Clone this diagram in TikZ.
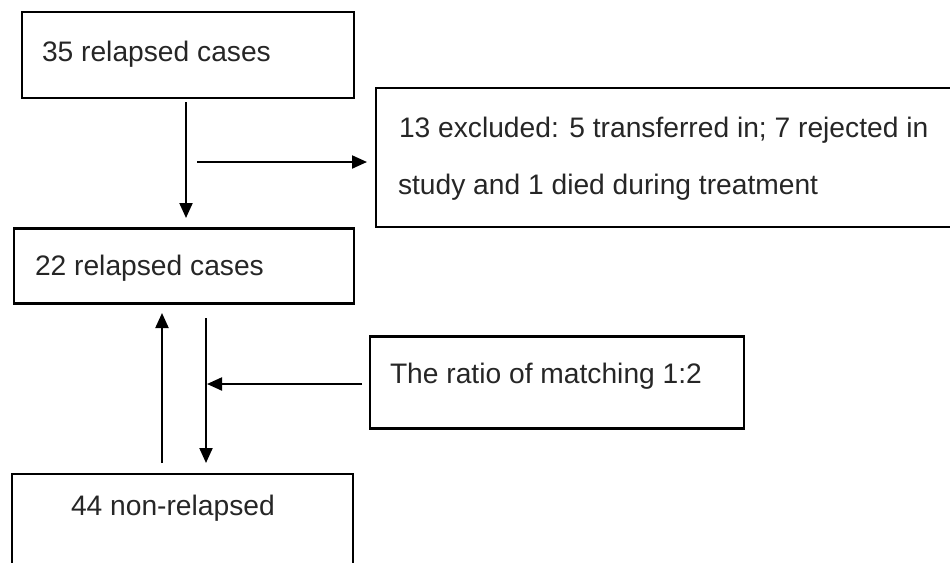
\documentclass[tikz,border=0pt]{standalone}
\usepackage{fontspec}
\setmainfont{Liberation Sans}
\usetikzlibrary{arrows.meta}
\tikzset{
  box/.style={draw, line width=2.3pt, inner sep=0pt, outer sep=0pt, anchor=north west},
  txt/.style={inner sep=0pt, outer sep=0pt, anchor=base west, font=\fontsize{28.2}{32}\selectfont, text=black!85},
  conn/.style={line width=2.1pt, -{Triangle[length=15pt,width=13pt]}}
}
\begin{document}
\begin{tikzpicture}[x=1pt,y=-1pt]
\useasboundingbox (0,0) rectangle (950,562);
\begin{scope}
\clip (0,0) rectangle (950,562);
% boxes
\node[box, minimum width=332pt, minimum height=86pt] (b1) at (22,12) {};
\node[box, minimum width=590pt, minimum height=139pt] (b2) at (376,88) {};
\node[box, minimum width=340pt, minimum height=75pt] (b3) at (14,228.5) {};
\node[box, minimum width=374pt, minimum height=92pt] (b4) at (370,336.5) {};
\node[box, minimum width=341pt, minimum height=130pt] (b5) at (12,474) {};
\end{scope}
% texts
\node[txt] (t1) at (42,61.5) {35 relapsed cases};
\node[txt] (t2a) at (399,137) {13 excluded: 5 transferred in; 7 rejected in};
\node[txt] (t2b) at (398,194) {study and 1 died during treatment};
\node[txt] (t3) at (35,275) {22 relapsed cases};
\node[txt] (t4) at (390,383) {The ratio of matching 1:2};
\node[txt] (t5) at (71,515) {44 non-relapsed};
% connector end points
\coordinate (a1s) at (186,102);
\coordinate (a1e) at (186,218);
\coordinate (a2s) at (197,162);
\coordinate (a2e) at (367,162);
\coordinate (a3s) at (162,463);
\coordinate (a3e) at (162,313);
\coordinate (a4s) at (206,318);
\coordinate (a4e) at (206,463);
\coordinate (a5s) at (362,384);
\coordinate (a5e) at (207,384);
\draw[conn] (a1s) -- (a1e);
\draw[conn] (a2s) -- (a2e);
\draw[conn] (a3s) -- (a3e);
\draw[conn] (a4s) -- (a4e);
\draw[conn] (a5s) -- (a5e);
\end{tikzpicture}
\end{document}
